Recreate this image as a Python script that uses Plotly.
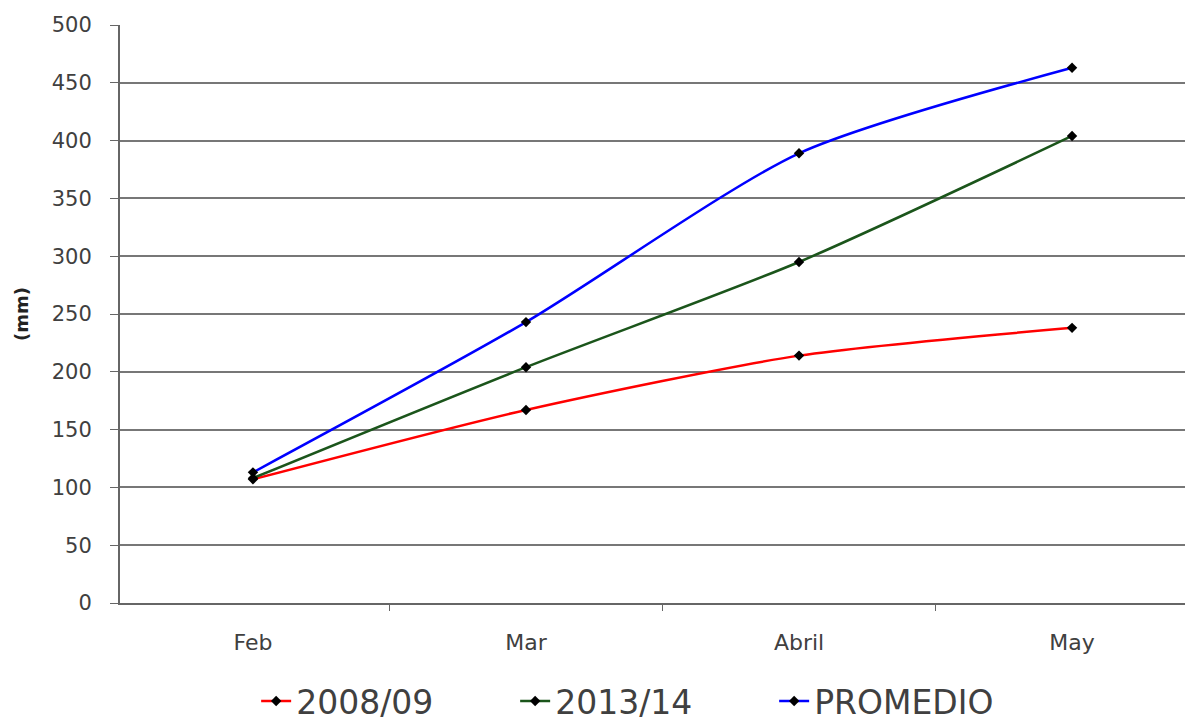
import plotly.graph_objects as go

months = ["Feb", "Mar", "Abril", "May"]
s_2008 = [107, 167, 214, 238]
s_2013 = [108, 204, 295, 404]
s_prom = [113, 243, 389, 463]

series = [
    ("2008/09", s_2008, "#FF0000"),
    ("2013/14", s_2013, "#1B551B"),
    ("PROMEDIO", s_prom, "#0000FF"),
]

fig = go.Figure()
for name, vals, col in series:
    fig.add_trace(go.Scatter(
        x=months, y=vals, name=name, mode="lines+markers",
        line=dict(color=col, width=2.5, shape="spline", smoothing=0.7),
        marker=dict(symbol="diamond", size=8, color="black"),
    ))

fig.update_layout(
    width=1193, height=722,
    margin=dict(l=112, r=8, t=17, b=127),
    paper_bgcolor="white", plot_bgcolor="white",
    font=dict(family="DejaVu Sans", color="#404040"),
    showlegend=True,
    legend=dict(orientation="h", xref="container", yref="container",
                x=0.208, xanchor="left", y=0.04, yanchor="middle",
                font=dict(size=33, family="DejaVu Sans", color="#404040"),
                entrywidth=214, entrywidthmode="pixels", tracegroupgap=0),
)
fig.update_xaxes(
    type="category", range=[-0.487, 3.443], automargin=False,
    showline=True, linecolor="#666666", linewidth=2,
    ticks="outside", tickson="boundaries", ticklen=6, tickcolor="#666666",
    tickfont=dict(size=22), showgrid=False, ticklabelstandoff=19,
)
fig.update_yaxes(
    range=[0, 500], dtick=50, automargin=False,
    showline=True, linecolor="#666666", linewidth=2,
    ticks="outside", ticklen=8, tickcolor="#666666",
    showgrid=True, gridcolor="#777777", gridwidth=1.5,
    tickfont=dict(size=21), zeroline=False, ticklabelstandoff=14,
    title=dict(text="<b>(mm)</b>", font=dict(size=18, color="#222222"), standoff=18),
)

fig.write_html("out.html")
